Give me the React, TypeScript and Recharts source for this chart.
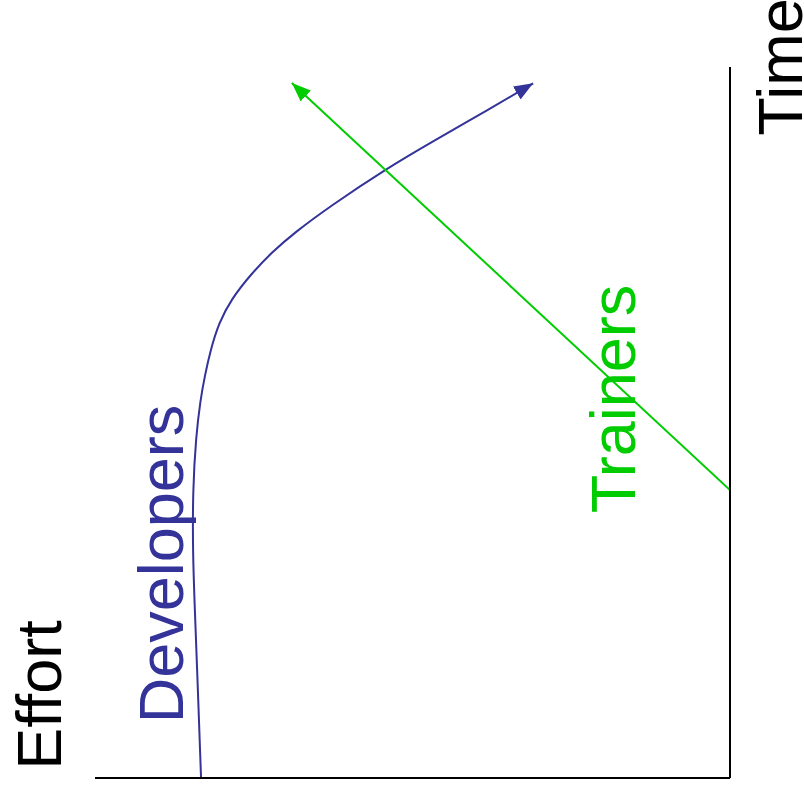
import React from "react";
import { LineChart, Line, XAxis, YAxis } from "recharts";

const developers = [
  { x: 16.7, y: 0 },
  { x: 16.3, y: 10.0 },
  { x: 15.8, y: 22.0 },
  { x: 15.4, y: 31.1 },
  { x: 15.4, y: 40.5 },
  { x: 15.9, y: 48.0 },
  { x: 16.6, y: 53.2 },
  { x: 17.3, y: 56.6 },
  { x: 18.2, y: 60.2 },
  { x: 19.5, y: 64.0 },
  { x: 21.5, y: 67.4 },
  { x: 24.6, y: 70.9 },
  { x: 27.8, y: 73.9 },
  { x: 31.4, y: 76.7 },
  { x: 37.0, y: 80.4 },
  { x: 45.5, y: 85.5 },
  { x: 53.7, y: 89.8 },
  { x: 61.2, y: 93.6 },
  { x: 69.0, y: 97.7 },
];

const trainers = [
  { x: 100, y: 40.5 },
  { x: 31.0, y: 97.75 },
];

const labels = {
  effort: "Effort",
  time: "Time",
  developers: "Developers",
  trainers: "Trainers",
};

const FONT = "'Liberation Sans', Arial, sans-serif";
const BLUE = "#333399";
const GREEN = "#00cc00";

function VText({ x, y, fill, children }: { x: number; y: number; fill: string; children: React.ReactNode }) {
  return (
    <text
      x={x}
      y={y}
      fill={fill}
      fontSize={63}
      fontFamily={FONT}
      textAnchor="middle"
      transform={`rotate(-90, ${x}, ${y})`}
    >
      {children}
    </text>
  );
}

export default function App() {
  return (
    <div style={{ position: "absolute", left: 0, top: 0, width: 804, height: 793, background: "#fff" }}>
      <LineChart width={804} height={793} margin={{ top: 67, right: 73, bottom: 14, left: 95 }}>
        <defs>
          <marker id="arrowBlue" viewBox="0 0 10 10" refX="10" refY="5" markerWidth="19" markerHeight="15" markerUnits="userSpaceOnUse" orient="auto" preserveAspectRatio="none">
            <path d="M0,0 L10,5 L0,10 z" fill={BLUE} />
          </marker>
          <marker id="arrowGreen" viewBox="0 0 10 10" refX="10" refY="5" markerWidth="19" markerHeight="15" markerUnits="userSpaceOnUse" orient="auto" preserveAspectRatio="none">
            <path d="M0,0 L10,5 L0,10 z" fill={GREEN} />
          </marker>
        </defs>
        <XAxis
          type="number"
          dataKey="x"
          domain={[0, 100]}
          tick={false}
          tickLine={false}
          height={1}
          axisLine={{ stroke: "#000", strokeWidth: 2 }}
          allowDataOverflow
        />
        <YAxis
          type="number"
          dataKey="y"
          domain={[0, 100]}
          orientation="right"
          tick={false}
          tickLine={false}
          width={1}
          axisLine={{ stroke: "#000", strokeWidth: 2 }}
          allowDataOverflow
        />
        <Line
          data={developers}
          dataKey="y"
          type="basis"
          stroke={BLUE}
          strokeWidth={2}
          dot={false}
          activeDot={false}
          isAnimationActive={false}
          markerEnd="url(#arrowBlue)"
        />
        <Line
          data={trainers}
          dataKey="y"
          type="linear"
          stroke={GREEN}
          strokeWidth={2}
          dot={false}
          activeDot={false}
          isAnimationActive={false}
          markerEnd="url(#arrowGreen)"
        />
        <VText x={61} y={695} fill="#000">{labels.effort}</VText>
        <VText x={802} y={67} fill="#000">{labels.time}</VText>
        <VText x={183} y={564} fill={BLUE}>{labels.developers}</VText>
        <VText x={635} y={399} fill={GREEN}>{labels.trainers}</VText>
      </LineChart>
    </div>
  );
}
